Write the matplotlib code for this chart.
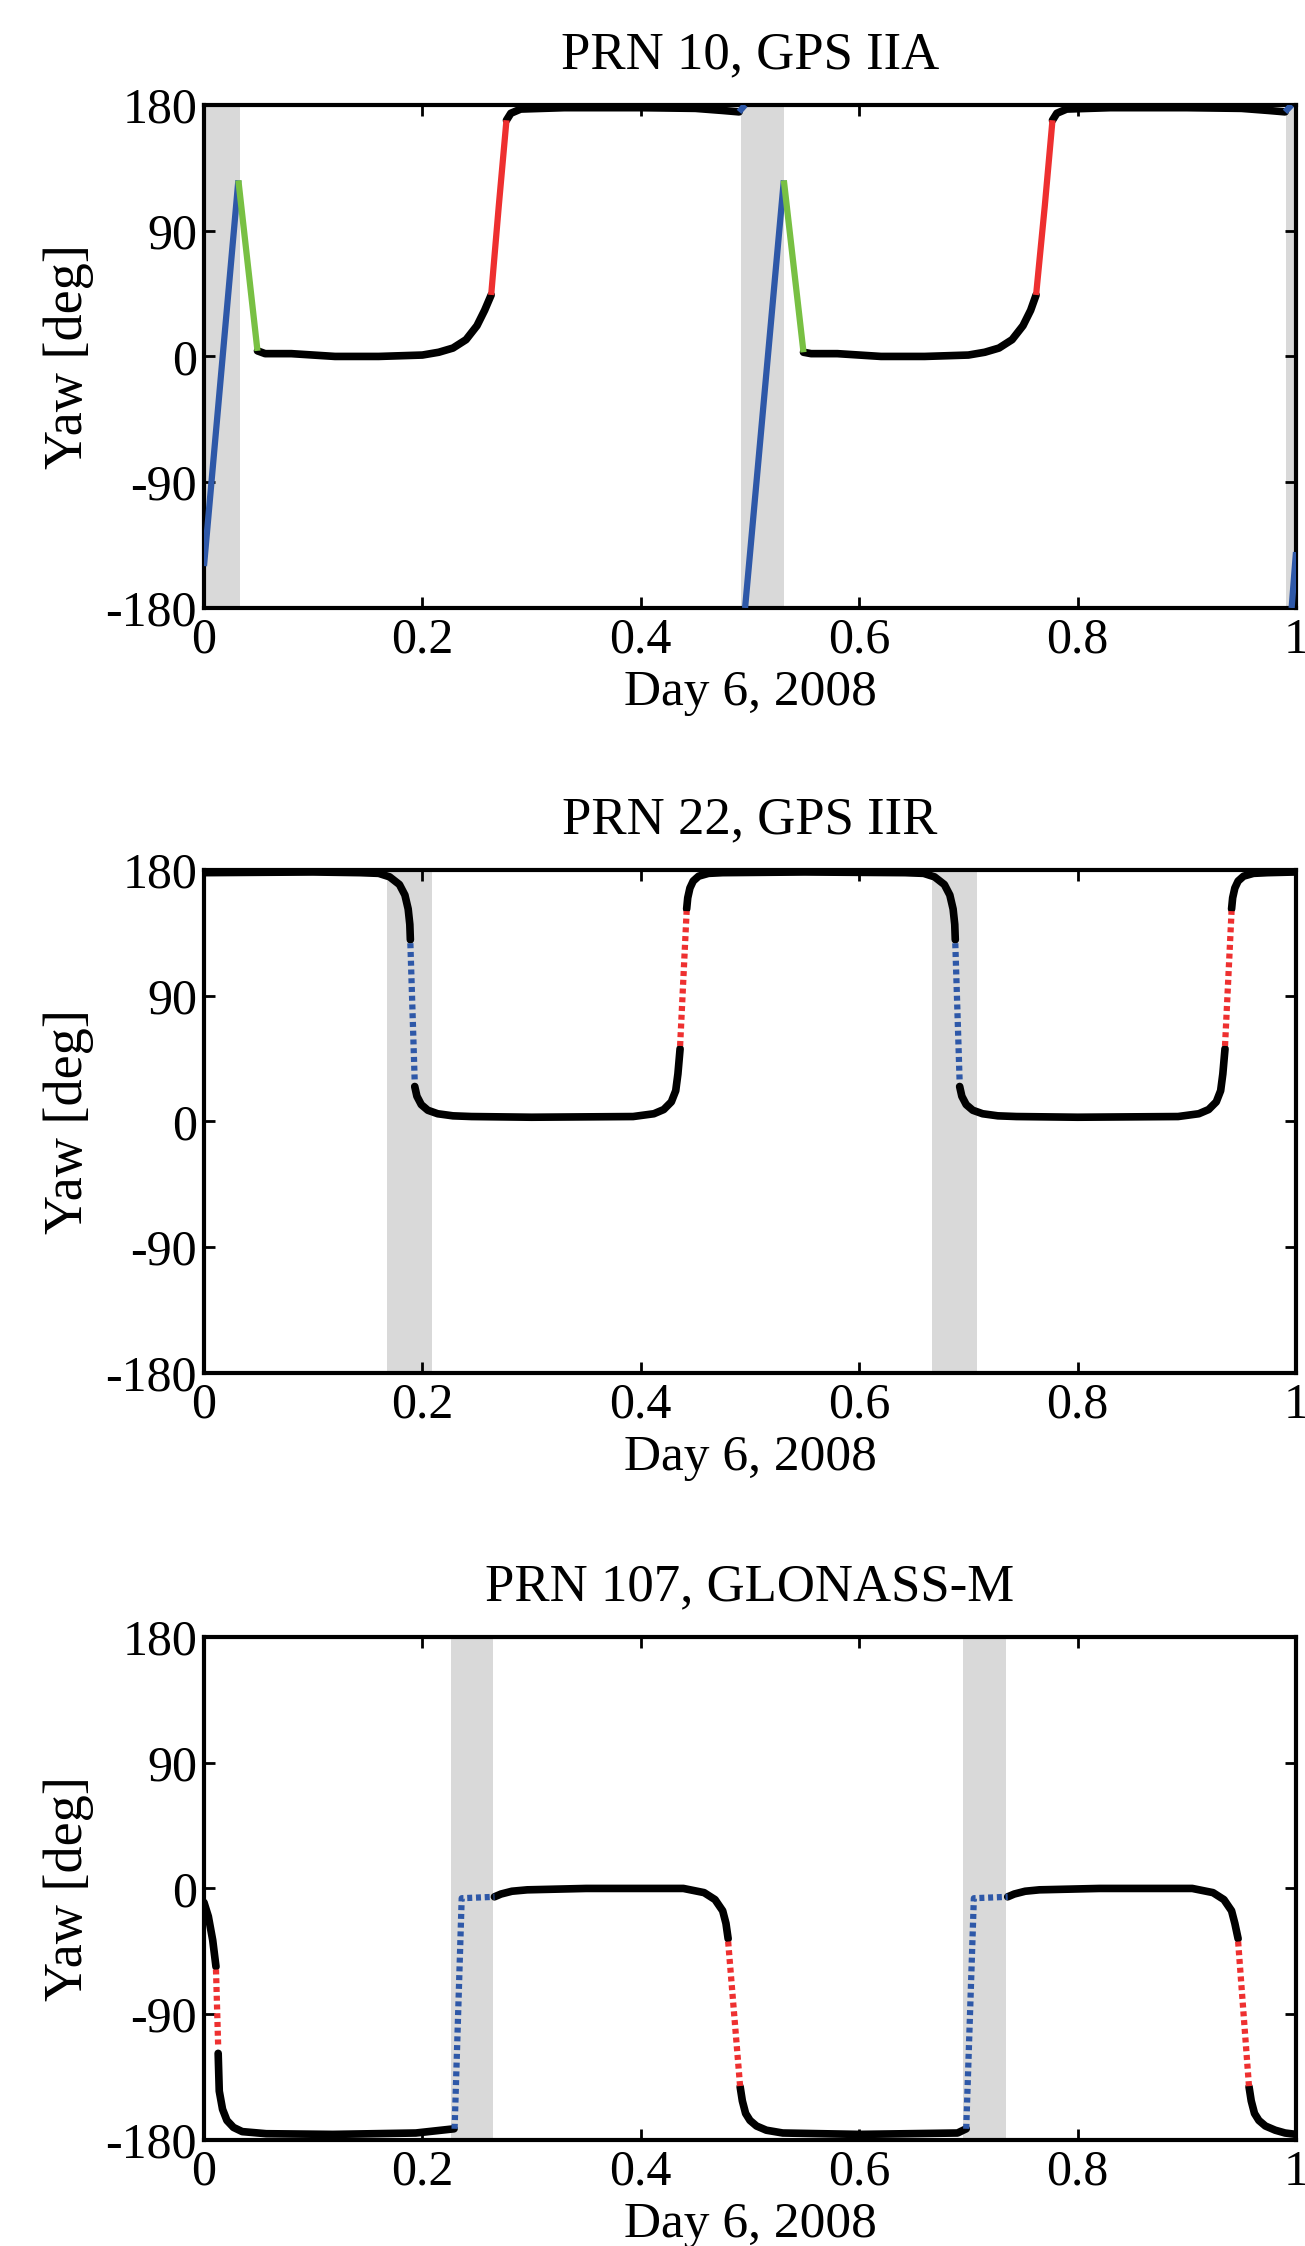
import matplotlib
matplotlib.use("Agg")
import matplotlib.pyplot as plt

plt.rcParams["font.family"] = ["Liberation Serif", "DejaVu Serif"]
plt.rcParams["axes.unicode_minus"] = False
plt.rcParams["font.size"] = 36

# 颜色
BLACK = "#000000"
BLUE = "#2e58a8"
RED = "#ee3030"
GREEN = "#78c043"
SHADE = "#d9d9d9"

# ---- PRN 10, GPS IIA ----
prn10_shade = [(0.0, 0.033), (0.4915, 0.5315), (0.991, 1.0)]
prn10_black = [
    ([0.049, 0.056, 0.08, 0.12, 0.16, 0.20, 0.215, 0.228, 0.240, 0.250, 0.257, 0.263],
     [4, 2, 2, 0, 0, 1, 3, 6, 12, 22, 33, 44]),
    ([0.277, 0.281, 0.29, 0.33, 0.40, 0.45, 0.475, 0.490],
     [169, 174, 177, 178, 178, 177.5, 176, 175]),
    ([0.549, 0.556, 0.58, 0.62, 0.66, 0.70, 0.715, 0.728, 0.740, 0.750, 0.757, 0.762],
     [3, 2, 2, 0, 0, 1, 3, 6, 12, 22, 33, 44]),
    ([0.777, 0.781, 0.79, 0.83, 0.90, 0.95, 0.975, 0.990],
     [169, 174, 177, 178, 178, 177.5, 176, 175]),
]
prn10_blue = [
    ([0.0, 0.0315], [-150, 126]),
    ([0.490, 0.4955], [175, 180]),
    ([0.4955, 0.531], [-180, 126]),
    ([0.990, 0.996], [175, 180]),
    ([0.996, 1.0], [-180, -140]),
]
prn10_green = [
    ([0.0315, 0.049], [126, 4]),
    ([0.531, 0.549], [126, 3]),
]
prn10_red = [
    ([0.263, 0.270, 0.277], [44, 108, 169]),
    ([0.762, 0.770, 0.777], [44, 108, 169]),
]

# ---- PRN 22, GPS IIR ----
prn22_shade = [(0.168, 0.209), (0.667, 0.708)]
prn22_black = [
    ([0.0, 0.10, 0.143, 0.160, 0.170, 0.179, 0.184, 0.187, 0.1885, 0.189],
     [178, 178.5, 178, 177.5, 175, 169.5, 162, 152, 141, 130]),
    ([0.193, 0.195, 0.199, 0.205, 0.214, 0.228, 0.245, 0.30, 0.393, 0.412, 0.421, 0.428, 0.432, 0.434, 0.436],
     [25, 18, 12, 8, 5.5, 4, 3.5, 3, 3.5, 5.5, 8.5, 14, 22, 34, 52]),
    ([0.442, 0.443, 0.445, 0.448, 0.453, 0.462, 0.475, 0.55, 0.642, 0.659, 0.669, 0.678, 0.683, 0.686, 0.6875, 0.688],
     [152, 160, 167, 172, 175.5, 177.5, 178, 178.5, 178, 177.5, 175, 169.5, 162, 152, 141, 130]),
    ([0.692, 0.694, 0.698, 0.704, 0.713, 0.727, 0.744, 0.80, 0.892, 0.911, 0.920, 0.927, 0.931, 0.933, 0.935],
     [25, 18, 12, 8, 5.5, 4, 3.5, 3, 3.5, 5.5, 8.5, 14, 22, 34, 52]),
    ([0.941, 0.942, 0.944, 0.947, 0.952, 0.961, 0.974, 1.0],
     [152, 160, 167, 172, 175.5, 177.5, 178, 178.5]),
]
prn22_blue = [
    ([0.189, 0.193], [127.5, 28]),
    ([0.688, 0.692], [127.5, 28]),
]
prn22_red = [
    ([0.436, 0.442], [54, 150.5]),
    ([0.935, 0.941], [54, 150.5]),
]

# ---- PRN 107, GLONASS-M ----
prn107_shade = [(0.226, 0.265), (0.695, 0.734)]
prn107_black = [
    ([0.0, 0.004, 0.008, 0.011], [-10, -20, -37, -56]),
    ([0.013, 0.014, 0.017, 0.021, 0.027, 0.035, 0.057, 0.118, 0.194, 0.229],
     [-118, -145, -158, -166, -171, -174, -175.5, -176, -175, -172]),
    ([0.266, 0.272, 0.282, 0.296, 0.35, 0.439, 0.458, 0.468, 0.475, 0.478, 0.480],
     [-6, -4, -2, -1, 0, 0, -3, -8, -16, -25, -36]),
    ([0.491, 0.493, 0.496, 0.50, 0.506, 0.515, 0.53, 0.60, 0.69, 0.698],
     [-142, -152, -161, -166, -170, -173, -175, -176, -175, -172]),
    ([0.736, 0.742, 0.752, 0.765, 0.82, 0.905, 0.924, 0.934, 0.941, 0.944, 0.947],
     [-6, -4, -2, -1, 0, 0, -3, -8, -16, -25, -36]),
    ([0.957, 0.959, 0.962, 0.966, 0.972, 0.981, 0.99, 1.0],
     [-142, -152, -161, -166, -170, -173, -175, -176]),
]
prn107_blue = [
    ([0.2295, 0.236, 0.266], [-172, -7, -6]),
    ([0.698, 0.705, 0.736], [-172, -7, -6]),
]
prn107_red = [
    ([0.011, 0.013], [-58, -113]),
    ([0.480, 0.491], [-38, -142]),
    ([0.947, 0.957], [-38, -142]),
]

titles = ["PRN 10, GPS IIA", "PRN 22, GPS IIR", "PRN 107, GLONASS-M"]
xticks = [0, 0.2, 0.4, 0.6, 0.8, 1]
xticklabels = ["0", "0.2", "0.4", "0.6", "0.8", "1"]
yticks = [-180, -90, 0, 90, 180]
yticklabels = ["-180", "-90", "0", "90", "180"]

panels = [
    dict(shade=prn10_shade, black=prn10_black, colored=[(prn10_blue, BLUE), (prn10_green, GREEN), (prn10_red, RED)], dense=True),
    dict(shade=prn22_shade, black=prn22_black, colored=[(prn22_blue, BLUE), (prn22_red, RED)], dense=False),
    dict(shade=prn107_shade, black=prn107_black, colored=[(prn107_blue, BLUE), (prn107_red, RED)], dense=False),
]

fig = plt.figure(figsize=(13.05, 22.46), dpi=100)
bottoms = [0.7293, 0.3887, 0.0472]
left, width, height = 0.1563, 0.8368, 0.224

for title, p, b in zip(titles, panels, bottoms):
    ax = fig.add_axes([left, b, width, height])
    for x0, x1 in p["shade"]:
        ax.axvspan(x0, x1, color=SHADE, lw=0, zorder=0)
    for t, y in p["black"]:
        ax.plot(t, y, color=BLACK, lw=5.5, solid_capstyle="round", solid_joinstyle="round", zorder=2)
    for segs, c in p["colored"]:
        for t, y in segs:
            if p["dense"]:
                ax.plot(t, y, color=c, lw=4.5, solid_capstyle="butt", zorder=3)
            else:
                ax.plot(t, y, color=c, lw=4.5, linestyle=(0, (0.8, 0.6)), zorder=3)
    ax.set_xlim(0, 1)
    ax.set_ylim(-180, 180)
    ax.set_xticks(xticks)
    ax.set_xticklabels(xticklabels)
    ax.set_yticks(yticks)
    ax.set_yticklabels(yticklabels)
    ax.tick_params(direction="in", length=8, width=2, top=True, right=True, labelsize=36)
    ax.tick_params(axis="x", pad=6.5)
    ax.tick_params(axis="y", pad=5)
    for s in ax.spines.values():
        s.set_linewidth(3)
    ax.set_title(title, fontsize=38, pad=26)
    ax.set_xlabel("Day 6, 2008", fontsize=37, labelpad=4)
    ax.set_ylabel("Yaw [deg]", fontsize=39, labelpad=8)

fig.savefig("out.png", dpi=100)
